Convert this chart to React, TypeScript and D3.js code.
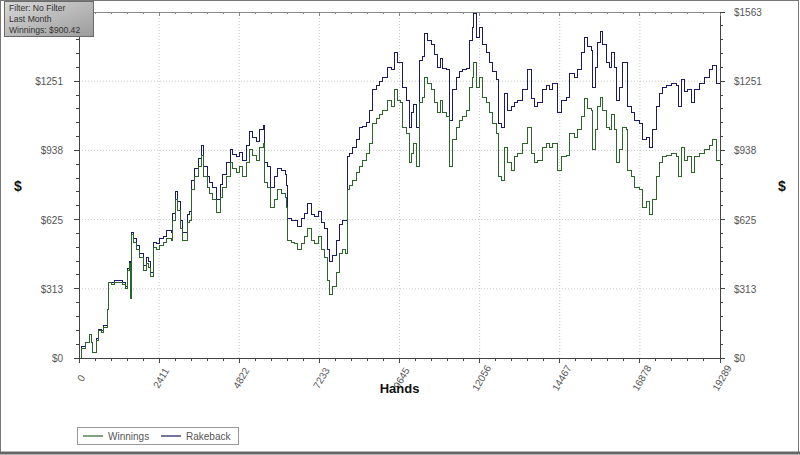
import * as React from 'react';
import * as d3 from 'd3';

// hands played (x) and cumulative results in dollars
const hands = [
  0, 90, 181, 301, 391, 421, 512, 572, 692, 752,
  843, 873, 993, 1083, 1174, 1324, 1414, 1474, 1505, 1535,
  1565, 1625, 1745, 1835, 1926, 2046, 2106, 2166, 2227, 2347,
  2437, 2528, 2648, 2798, 2828, 2889, 2979, 3069, 3129, 3250,
  3340, 3400, 3490, 3581, 3701, 3761, 3852, 3942, 4032, 4152,
  4243, 4333, 4453, 4544, 4634, 4754, 4844, 4935, 5055, 5145,
  5236, 5356, 5446, 5537, 5597, 5687, 5777, 5898, 5988, 6108,
  6199, 6259, 6289, 6409, 6499, 6590, 6710, 6800, 6891, 7011,
  7101, 7192, 7312, 7402, 7492, 7553, 7643, 7763, 7853, 7944,
  8034, 8094, 8154, 8245, 8365, 8455, 8546, 8666, 8756, 8846,
  8967, 9057, 9147, 9298, 9418, 9508, 9599, 9689, 9749, 9870,
  9960, 10020, 10080, 10170, 10261, 10351, 10411, 10501, 10622, 10712,
  10802, 10893, 10953, 11073, 11163, 11254, 11374, 11464, 11555, 11675,
  11765, 11855, 11886, 11976, 12066, 12156, 12277, 12367, 12457, 12578,
  12638, 12728, 12818, 12909, 13029, 13119, 13210, 13360, 13510, 13631,
  13721, 13811, 13962, 14082, 14172, 14263, 14353, 14413, 14533, 14684,
  14774, 14925, 15015, 15135, 15226, 15316, 15436, 15466, 15557, 15617,
  15707, 15767, 15888, 15978, 16038, 16128, 16188, 16279, 16369, 16489,
  16519, 16640, 16730, 16880, 16971, 17091, 17181, 17272, 17392, 17482,
  17573, 17693, 17843, 17994, 18054, 18144, 18235, 18325, 18445, 18535,
  18686, 18836, 18987, 19077, 19197, 19289,
];

const winnings = [
  0, 45, 68, 104, 68, 23, 81, 126, 117, 140,
  217, 339, 330, 343, 339, 330, 316, 397, 429, 271,
  556, 524, 488, 456, 397, 429, 411, 366, 501, 488,
  510, 524, 542, 533, 623, 714, 668, 587, 533, 610,
  623, 759, 818, 863, 917, 818, 772, 745, 714, 659,
  727, 772, 818, 881, 858, 840, 863, 818, 881, 940,
  917, 894, 953, 971, 795, 772, 678, 714, 759, 745,
  727, 682, 533, 524, 519, 488, 519, 547, 587, 533,
  519, 547, 488, 456, 352, 285, 321, 384, 474, 488,
  474, 759, 781, 804, 840, 863, 894, 926, 971, 1061,
  1084, 1098, 1120, 1165, 1134, 1211, 1165, 1152, 1043, 1016,
  881, 926, 971, 863, 1152, 1179, 1269, 1242, 1211, 1152,
  1107, 1165, 1107, 1089, 863, 985, 1043, 1075, 1089, 1120,
  1224, 1269, 1337, 1224, 1269, 1179, 1152, 1107, 1061, 1016,
  818, 804, 953, 881, 849, 908, 926, 971, 1039, 926,
  881, 894, 953, 971, 953, 971, 971, 849, 908, 917,
  1016, 998, 1030, 1089, 1174, 1129, 1120, 940, 1030, 1134,
  1179, 1120, 1043, 1030, 1098, 1030, 881, 940, 1043, 1030,
  849, 818, 772, 759, 682, 705, 646, 714, 818, 881,
  908, 917, 926, 908, 818, 953, 894, 908, 836, 908,
  926, 940, 962, 985, 894, 900,
];

const rakeback = [
  0, 50, 72, 108, 72, 27, 86, 131, 122, 145,
  221, 343, 339, 352, 348, 339, 325, 406, 438, 280,
  569, 538, 506, 474, 416, 452, 434, 388, 524, 515,
  538, 551, 574, 565, 655, 750, 705, 623, 569, 646,
  664, 800, 858, 903, 962, 867, 822, 795, 768, 718,
  786, 831, 881, 944, 921, 908, 930, 890, 958, 1021,
  994, 976, 1034, 1052, 885, 863, 772, 818, 858, 849,
  827, 781, 632, 623, 619, 596, 628, 655, 700, 650,
  637, 664, 614, 587, 488, 434, 465, 533, 601, 623,
  623, 908, 926, 949, 985, 1039, 1048, 1066, 1120, 1211,
  1229, 1247, 1269, 1314, 1301, 1378, 1333, 1337, 1224, 1165,
  1043, 1111, 1147, 1043, 1346, 1360, 1468, 1436, 1414, 1369,
  1314, 1355, 1310, 1301, 1075, 1211, 1265, 1292, 1301, 1310,
  1436, 1495, 1558, 1450, 1495, 1414, 1378, 1337, 1292, 1256,
  1061, 1043, 1197, 1120, 1134, 1156, 1165, 1211, 1301, 1174,
  1134, 1152, 1215, 1229, 1211, 1238, 1242, 1107, 1165, 1179,
  1287, 1269, 1301, 1378, 1450, 1405, 1391, 1220, 1314, 1427,
  1473, 1414, 1333, 1314, 1382, 1314, 1165, 1224, 1337, 1333,
  1134, 1107, 1075, 1061, 985, 998, 953, 1030, 1134, 1197,
  1220, 1233, 1242, 1233, 1134, 1256, 1202, 1211, 1152, 1211,
  1242, 1265, 1301, 1323, 1242, 1233,
];

const xTicks = [0, 2411, 4822, 7233, 9645, 12056, 14467, 16878, 19289];
const yTickLabels = ['$0', '$313', '$625', '$938', '$1251', '$1563'];
const yMax = 1563;
const infoLines = ['Filter: No Filter', 'Last Month', 'Winnings: $900.42'];
const seriesNames = ['Winnings', 'Rakeback'];
const seriesColors = ['#2a652a', '#1a1a66'];

const W = 800, H = 455;
const left = 79, right = 720, top = 12, bottom = 358;
const font = 'Liberation Sans, Arial, sans-serif';

export default function App() {
  const x = d3.scaleLinear().domain([0, xTicks[xTicks.length - 1]]).range([left, right]);
  const y = d3.scaleLinear().domain([0, yMax]).range([bottom, top]);
  const yTicks = yTickLabels.map((_, i) => (i * yMax) / (yTickLabels.length - 1));

  // minor ticks: 5 steps between majors
  const xMinor: number[] = [];
  for (let i = 0; i < xTicks.length - 1; i++) {
    for (let k = 1; k < 5; k++) xMinor.push(xTicks[i] + ((xTicks[i + 1] - xTicks[i]) * k) / 5);
  }
  const yMinor: number[] = [];
  for (let i = 0; i < yTicks.length - 1; i++) {
    for (let k = 1; k < 5; k++) yMinor.push(yTicks[i] + ((yTicks[i + 1] - yTicks[i]) * k) / 5);
  }

  const line = d3.line<number>()
    .x((_d, i) => x(hands[i]))
    .y(d => y(d))
    .curve(d3.curveStepAfter);

  return (
    <svg width={W} height={H} style={{ position: 'absolute', left: 0, top: 0, background: '#fff' }}>
      <defs>
        <linearGradient id="infoGrad" x1="0" y1="0" x2="1" y2="1">
          <stop offset="0" stopColor="#d8d8d8" />
          <stop offset="1" stopColor="#9c9c9c" />
        </linearGradient>
      </defs>
      <rect x={0.5} y={0.5} width={W - 2} height={H - 3} fill="#fff" stroke="#777" />
      <line x1={0} x2={W} y1={H - 2} y2={H - 2} stroke="#666" strokeWidth={3} />

      {/* grid */}
      {xTicks.slice(1, -1).map(t => (
        <line key={'gx' + t} x1={x(t)} x2={x(t)} y1={top} y2={bottom}
          stroke="#c8c8c8" strokeDasharray="1,2" />
      ))}
      {yTicks.slice(1, -1).map(t => (
        <line key={'gy' + t} x1={left} x2={right} y1={y(t)} y2={y(t)}
          stroke="#c8c8c8" strokeDasharray="1,2" />
      ))}

      {/* series */}
      <path d={line(rakeback) || ''} fill="none" stroke={seriesColors[1]} strokeWidth={1}
        shapeRendering="crispEdges" />
      <path d={line(winnings) || ''} fill="none" stroke={seriesColors[0]} strokeWidth={1}
        shapeRendering="crispEdges" />

      {/* frame */}
      <g stroke="#444" strokeWidth={1} shapeRendering="crispEdges">
        <line x1={left} x2={right} y1={bottom} y2={bottom} />
        <line x1={left} x2={right} y1={top} y2={top} stroke="#888" />
        <line x1={left} x2={left} y1={top} y2={bottom} />
        <line x1={right} x2={right} y1={top} y2={bottom} />
        {xTicks.map(t => (
          <g key={'xt' + t}>
            <line x1={x(t)} x2={x(t)} y1={bottom} y2={bottom + 5} />
            <line x1={x(t)} x2={x(t)} y1={top} y2={top + 4} stroke="#888" />
          </g>
        ))}
        {xMinor.map(t => (
          <g key={'xm' + t}>
            <line x1={x(t)} x2={x(t)} y1={bottom} y2={bottom + 3} />
            <line x1={x(t)} x2={x(t)} y1={top} y2={top + 2} stroke="#888" />
          </g>
        ))}
        {yTicks.map(t => (
          <g key={'yt' + t}>
            <line x1={left - 5} x2={left} y1={y(t)} y2={y(t)} />
            <line x1={right} x2={right + 5} y1={y(t)} y2={y(t)} />
          </g>
        ))}
        {yMinor.map(t => (
          <g key={'ym' + t}>
            <line x1={left - 3} x2={left} y1={y(t)} y2={y(t)} />
            <line x1={right} x2={right + 3} y1={y(t)} y2={y(t)} />
          </g>
        ))}
      </g>

      {/* tick labels */}
      <g fontFamily={font} fontSize={10} fill="#555">
        {yTicks.map((t, i) => (
          <g key={'yl' + t}>
            <text x={left - 16} y={y(t) + 4} textAnchor="end">{yTickLabels[i]}</text>
            <text x={right + 14} y={y(t) + 4}>{yTickLabels[i]}</text>
          </g>
        ))}
        {xTicks.map(t => (
          <text key={'xl' + t} transform={`translate(${x(t) + 2},${bottom + 20}) rotate(-60)`}
            textAnchor="middle" dy="0.35em">{t}</text>
        ))}
      </g>

      {/* axis titles */}
      <g fontFamily={font} fontWeight="bold" fill="#111">
        <text x={(left + right) / 2} y={393} textAnchor="middle" fontSize={13}>Hands</text>
        <text x={18} y={191} textAnchor="middle" fontSize={14}>$</text>
        <text x={782} y={191} textAnchor="middle" fontSize={14}>$</text>
      </g>

      {/* info box */}
      <rect x={4.5} y={1.5} width={89} height={35} fill="url(#infoGrad)" stroke="#6a6a6a" />
      <g fontFamily={font} fontSize={8.6} fill="#333">
        {infoLines.map((s, i) => (
          <text key={s} x={9} y={11 + i * 11}>{s}</text>
        ))}
      </g>

      {/* legend */}
      <rect x={77.5} y={427.5} width={161} height={17} fill="#fff" stroke="#999" />
      {seriesNames.map((s, i) => (
        <g key={s} transform={`translate(${83 + i * 78},436)`}>
          <line x1={0} x2={20} y1={0} y2={0} stroke={seriesColors[i]} strokeWidth={1.2} />
          <text x={25} y={4} fontFamily={font} fontSize={10} fill="#555">{s}</text>
        </g>
      ))}
    </svg>
  );
}
